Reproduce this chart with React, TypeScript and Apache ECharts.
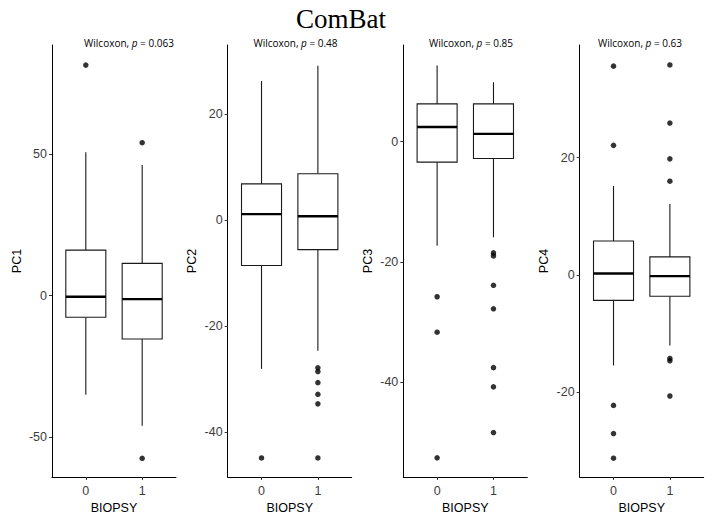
import React, { useEffect, useRef } from "react";
import * as echarts from "echarts";

// ---- data ----
const biopsyGroups = [0, 1];
const panelNames = ["PC1", "PC2", "PC3", "PC4"];
const wilcoxonP = ["0.063", "0.48", "0.85", "0.63"];

// [group, lowerWhisker, Q1, median, Q3, upperWhisker]
const pc1Stats = [
  [0, -35.0, -7.6, -0.35, 16.1, 50.6],
  [1, -45.9, -15.3, -1.2, 11.4, 46.1],
];
const pc2Stats = [
  [0, -28.1, -8.6, 1.1, 6.8, 26.2],
  [1, -24.7, -5.6, 0.7, 8.7, 29.1],
];
const pc3Stats = [
  [0, -17.3, -3.4, 2.45, 6.3, 12.7],
  [1, -15.9, -2.8, 1.3, 6.3, 9.9],
];
const pc4Stats = [
  [0, -15.4, -4.3, 0.27, 5.8, 15.2],
  [1, -12.0, -3.6, -0.17, 3.1, 12.1],
];

const pc1Outliers = [[0, 81.4], [1, 54.0], [1, -57.4]];
const pc2Outliers = [[0, -44.9], [1, -27.9], [1, -28.6], [1, -30.7], [1, -32.9], [1, -34.7], [1, -44.9]];
const pc3Outliers = [
  [0, -25.8], [0, -31.7], [0, -52.6],
  [1, -18.5], [1, -19.0], [1, -23.9], [1, -27.8], [1, -37.6], [1, -40.8], [1, -48.4],
];
const pc4Outliers = [
  [0, 35.6], [0, 22.1], [0, -22.2], [0, -27.0], [0, -31.2],
  [1, 35.8], [1, 25.9], [1, 19.8], [1, 16.0], [1, -14.2], [1, -14.6], [1, -20.6],
];

const pc1Ticks = [-50, 0, 50];
const pc2Ticks = [-40, -20, 0, 20];
const pc3Ticks = [-40, -20, 0];
const pc4Ticks = [-20, 0, 20];

const allStats = [pc1Stats, pc2Stats, pc3Stats, pc4Stats];
const allOutliers = [pc1Outliers, pc2Outliers, pc3Outliers, pc4Outliers];
const allTicks = [pc1Ticks, pc2Ticks, pc3Ticks, pc4Ticks];

// ---- layout ----
const yRanges = [
  [-64, 88.5],
  [-48.5, 33.0],
  [-55.8, 16.1],
  [-34.4, 39.2],
];
const gridLefts = [52, 227.7, 403.3, 579.7];
const gridWidth = 124;
const gridTop = 45;
const gridBottom = 43;
const labelCenters = [129, 295.5, 471, 640];

const SANS = "Liberation Sans, Arial, sans-serif";

export default function App() {
  const ref = useRef<HTMLDivElement>(null);

  useEffect(() => {
    if (!ref.current) return;
    const chart = echarts.init(ref.current, null, { renderer: "svg" });

    const grids: any[] = [];
    const xAxes: any[] = [];
    const yAxes: any[] = [];
    const series: any[] = [];
    const graphics: any[] = [];

    panelNames.forEach((name, i) => {
      grids.push({ left: gridLefts[i], width: gridWidth, top: gridTop, bottom: gridBottom });
      xAxes.push({
        type: "value",
        gridIndex: i,
        min: -0.6,
        max: 1.6,
        name: "BIOPSY",
        nameLocation: "middle",
        nameGap: 21,
        nameTextStyle: { color: "#000", fontSize: 12.5, fontFamily: SANS },
        axisLine: { show: true, onZero: false, lineStyle: { color: "#000", width: 1 } },
        axisTick: { show: true, length: 3, customValues: biopsyGroups, lineStyle: { color: "#333" } },
        axisLabel: {
          customValues: biopsyGroups,
          color: "#3d3d3d",
          fontSize: 12.5,
          fontFamily: SANS,
          margin: 7,
        },
        splitLine: { show: false },
      });
      yAxes.push({
        type: "value",
        gridIndex: i,
        min: yRanges[i][0],
        max: yRanges[i][1],
        name: name,
        nameLocation: "middle",
        nameGap: 29,
        nameTextStyle: { color: "#000", fontSize: 12.5, fontFamily: SANS },
        axisLine: { show: true, onZero: false, lineStyle: { color: "#000", width: 1 } },
        axisTick: { show: true, length: 3, customValues: allTicks[i], lineStyle: { color: "#333" } },
        axisLabel: {
          customValues: allTicks[i],
          color: "#3d3d3d",
          fontSize: 12.5,
          fontFamily: SANS,
          margin: 5,
        },
        splitLine: { show: false },
      });
      series.push({
        type: "custom",
        xAxisIndex: i,
        yAxisIndex: i,
        data: allStats[i],
        encode: { x: 0, y: [1, 2, 3, 4, 5] },
        renderItem: (params: any, api: any) => {
          const x = api.value(0);
          const lo = api.coord([x, api.value(1)]);
          const q1 = api.coord([x, api.value(2)]);
          const med = api.coord([x, api.value(3)]);
          const q3 = api.coord([x, api.value(4)]);
          const hi = api.coord([x, api.value(5)]);
          const half = api.size([0.71, 0])[0] / 2;
          const st = { stroke: "#1a1a1a", lineWidth: 1.1 };
          return {
            type: "group",
            children: [
              { type: "line", shape: { x1: lo[0], y1: lo[1], x2: q1[0], y2: q1[1] }, style: st },
              { type: "line", shape: { x1: q3[0], y1: q3[1], x2: hi[0], y2: hi[1] }, style: st },
              {
                type: "rect",
                shape: { x: q3[0] - half, y: q3[1], width: half * 2, height: q1[1] - q3[1] },
                style: { fill: "#fff", stroke: "#1a1a1a", lineWidth: 1.1 },
              },
              {
                type: "line",
                shape: { x1: med[0] - half, y1: med[1], x2: med[0] + half, y2: med[1] },
                style: { stroke: "#000", lineWidth: 2.4 },
              },
            ],
          };
        },
        z: 2,
      });
      series.push({
        type: "scatter",
        xAxisIndex: i,
        yAxisIndex: i,
        data: allOutliers[i],
        symbol: "circle",
        symbolSize: 5.5,
        itemStyle: { color: "#000" },
        z: 3,
      });
      graphics.push({
        type: "text",
        x: labelCenters[i],
        y: 43,
        style: {
          text: "{n|Wilcoxon, }{i|p}{n| = " + wilcoxonP[i] + "}",
          align: "center",
          verticalAlign: "middle",
          rich: {
            n: { fontSize: 10, fontFamily: "Open Sans, DejaVu Sans, sans-serif", fill: "#000" },
            i: { fontSize: 10, fontFamily: "Open Sans, DejaVu Sans, sans-serif", fontStyle: "italic", fill: "#000" },
          },
        },
      });
    });

    graphics.push({
      type: "text",
      x: 341,
      y: 19,
      style: {
        text: "ComBat",
        align: "center",
        verticalAlign: "middle",
        fontSize: 27,
        fontFamily: "Liberation Serif, Times New Roman, serif",
        fill: "#000",
      },
    });

    chart.setOption({
      animation: false,
      backgroundColor: "#fff",
      grid: grids,
      xAxis: xAxes,
      yAxis: yAxes,
      series,
      graphic: graphics,
    });

    return () => chart.dispose();
  }, []);

  return (
    <div
      ref={ref}
      style={{ position: "absolute", left: 0, top: 0, width: 727, height: 520 }}
    />
  );
}
